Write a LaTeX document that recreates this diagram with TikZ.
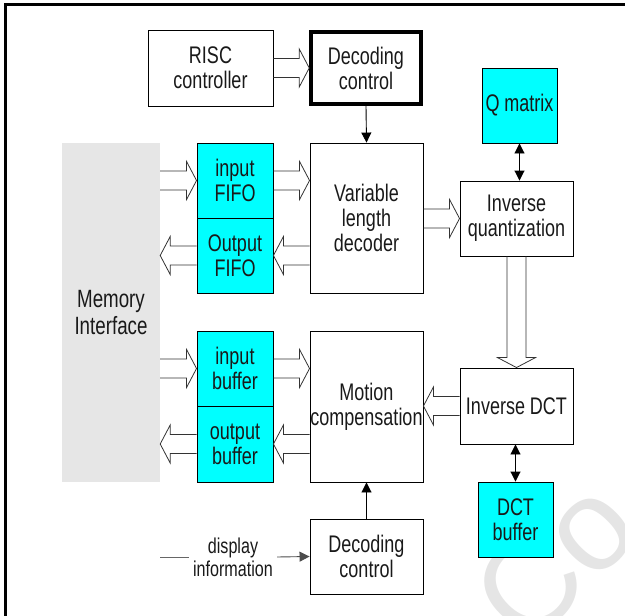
\documentclass[tikz,border=0pt]{standalone}
\usepackage{fontspec}
\setmainfont{Liberation Sans}[FakeStretch=0.75]
\newfontfamily\wmfont{Liberation Sans}
\usetikzlibrary{arrows.meta,calc}
\definecolor{aqua}{RGB}{0,255,255}
\definecolor{memgray}{RGB}{230,230,230}
\tikzset{
  box/.style={draw=black, line width=0.9pt, inner sep=0pt, align=center,
    font=\fontsize{24}{25}\selectfont, text=black!90},
  cybox/.style={box, fill=aqua},
  sig/.style={-{Triangle[length=10pt,width=10pt]}, line width=0.9pt},
  bisig/.style={{Triangle[length=10pt,width=10pt]}-{Triangle[length=10pt,width=10pt]}, line width=0.9pt},
  blk/.style={draw=black!80, line width=0.8pt},
  % hollow bus arrows, pointing right, left and down
  busright/.style={blk, to path={
    ($(\tikztostart)+(0,-9.5)$) -- ($(\tikztotarget)+(-10,-9.5)$) -- ($(\tikztotarget)+(-10,-19)$)
    -- (\tikztotarget) -- ($(\tikztotarget)+(-10,19)$) -- ($(\tikztotarget)+(-10,9.5)$)
    -- ($(\tikztostart)+(0,9.5)$)}},
  busleft/.style={blk, to path={
    ($(\tikztostart)+(0,-9.5)$) -- ($(\tikztotarget)+(10,-9.5)$) -- ($(\tikztotarget)+(10,-19)$)
    -- (\tikztotarget) -- ($(\tikztotarget)+(10,19)$) -- ($(\tikztotarget)+(10,9.5)$)
    -- ($(\tikztostart)+(0,9.5)$)}},
  busdown/.style={blk, to path={
    ($(\tikztostart)+(-9.5,0)$) -- ($(\tikztotarget)+(-9.5,-10)$) -- ($(\tikztotarget)+(-19,-10)$)
    -- (\tikztotarget) -- ($(\tikztotarget)+(19,-10)$) -- ($(\tikztotarget)+(9.5,-10)$)
    -- ($(\tikztostart)+(9.5,0)$)}},
}
\begin{document}
\begin{tikzpicture}[x=1pt,y=-1pt]
\useasboundingbox (0,0) rectangle (625,616);
\clip (0,0) rectangle (625,616);

% watermark
\node[anchor=base west, rotate=45, inner sep=0pt, text=black!10,
  font=\wmfont\fontsize{130}{130}\selectfont] (wm) at (527,651) {Co};

% outer frame
\draw[line width=3pt] (5.5,4.5) rectangle (680,680);

% memory interface
\node[fill=memgray, minimum width=98pt, minimum height=339pt, inner sep=0pt,
  align=center, font=\fontsize{25}{27}\selectfont, text=black!90] (mem) at (111,312.5) {Memory\\Interface};

% blocks
\node[box, minimum width=125pt, minimum height=76pt] (risc) at (210.5,68) {RISC\\controller};
\node[box, line width=3.5pt, minimum width=110pt, minimum height=72pt] (dec1) at (366,68) {Decoding\\control};
\node[cybox, minimum width=75pt, minimum height=75pt] (qm) at (519.5,105.5) {Q matrix};
\node[box, minimum width=113pt, minimum height=150pt] (vld) at (366.5,218) {Variable\\length\\decoder};
\node[box, minimum width=113pt, minimum height=75pt] (iq) at (516.5,218.5) {Inverse\\quantization};
\node[cybox, minimum width=76pt, minimum height=75pt] (ififo) at (235,180.5) {input\\FIFO};
\node[cybox, minimum width=76pt, minimum height=75pt] (ofifo) at (235,255.5) {Output\\FIFO};
\node[cybox, minimum width=76pt, minimum height=75pt] (ibuf) at (235,368.5) {input\\buffer};
\node[cybox, minimum width=76pt, minimum height=76pt] (obuf) at (235,444) {output\\buffer};
\node[box, minimum width=113pt, minimum height=151pt] (mc) at (366.5,406.5) {Motion\\compensation};
\node[box, minimum width=113pt, minimum height=76pt] (idct) at (516.5,406) {Inverse DCT};
\node[cybox, minimum width=75pt, minimum height=75pt] (dctb) at (515.5,519.5) {DCT\\buffer};
\node[box, minimum width=113pt, minimum height=75pt] (dec2) at (366.5,556.5) {Decoding\\control};
\node[align=center, inner sep=4pt, font=\fontsize{21.5}{23}\selectfont, text=black!90] (disp) at (233,557) {display\\information};
\coordinate (dispin) at (160,557);

% bus arrows
\draw[busright] (risc.east) to (risc.east -| dec1.west);
\draw[busright] (ififo.west -| mem.east) to (ififo.west);
\draw[busright] (ififo.east) to (ififo.east -| vld.west);
\draw[busleft] (ofifo.east -| vld.west) to (ofifo.east);
\draw[busleft] (ofifo.west) to (ofifo.west -| mem.east);
\draw[busright] (iq.west -| vld.east) to (iq.west);
\draw[busdown] (iq.south) to (iq.south |- idct.north);
\draw[busleft] (idct.west) to (idct.west -| mc.east);
\draw[busright] (ibuf.west -| mem.east) to (ibuf.west);
\draw[busright] (ibuf.east) to (ibuf.east -| mc.west);
\draw[busleft] (obuf.east -| mc.west) to (obuf.east);
\draw[busleft] (obuf.west) to (obuf.west -| mem.east);

% control arrows
\draw[sig] (dec1.south) -- (vld.north);
\draw[bisig] (qm.south) -- (qm.south |- iq.north);
\draw[bisig] (idct.south -| dctb.north) -- (dctb.north);
\draw[sig] (dec2.north) -- (mc.south);
\draw[line width=0.9pt, black!60] (dispin) -- (disp.west);
\draw[sig, black!70] (disp.east) -- (dec2.west);
\end{tikzpicture}
\end{document}
